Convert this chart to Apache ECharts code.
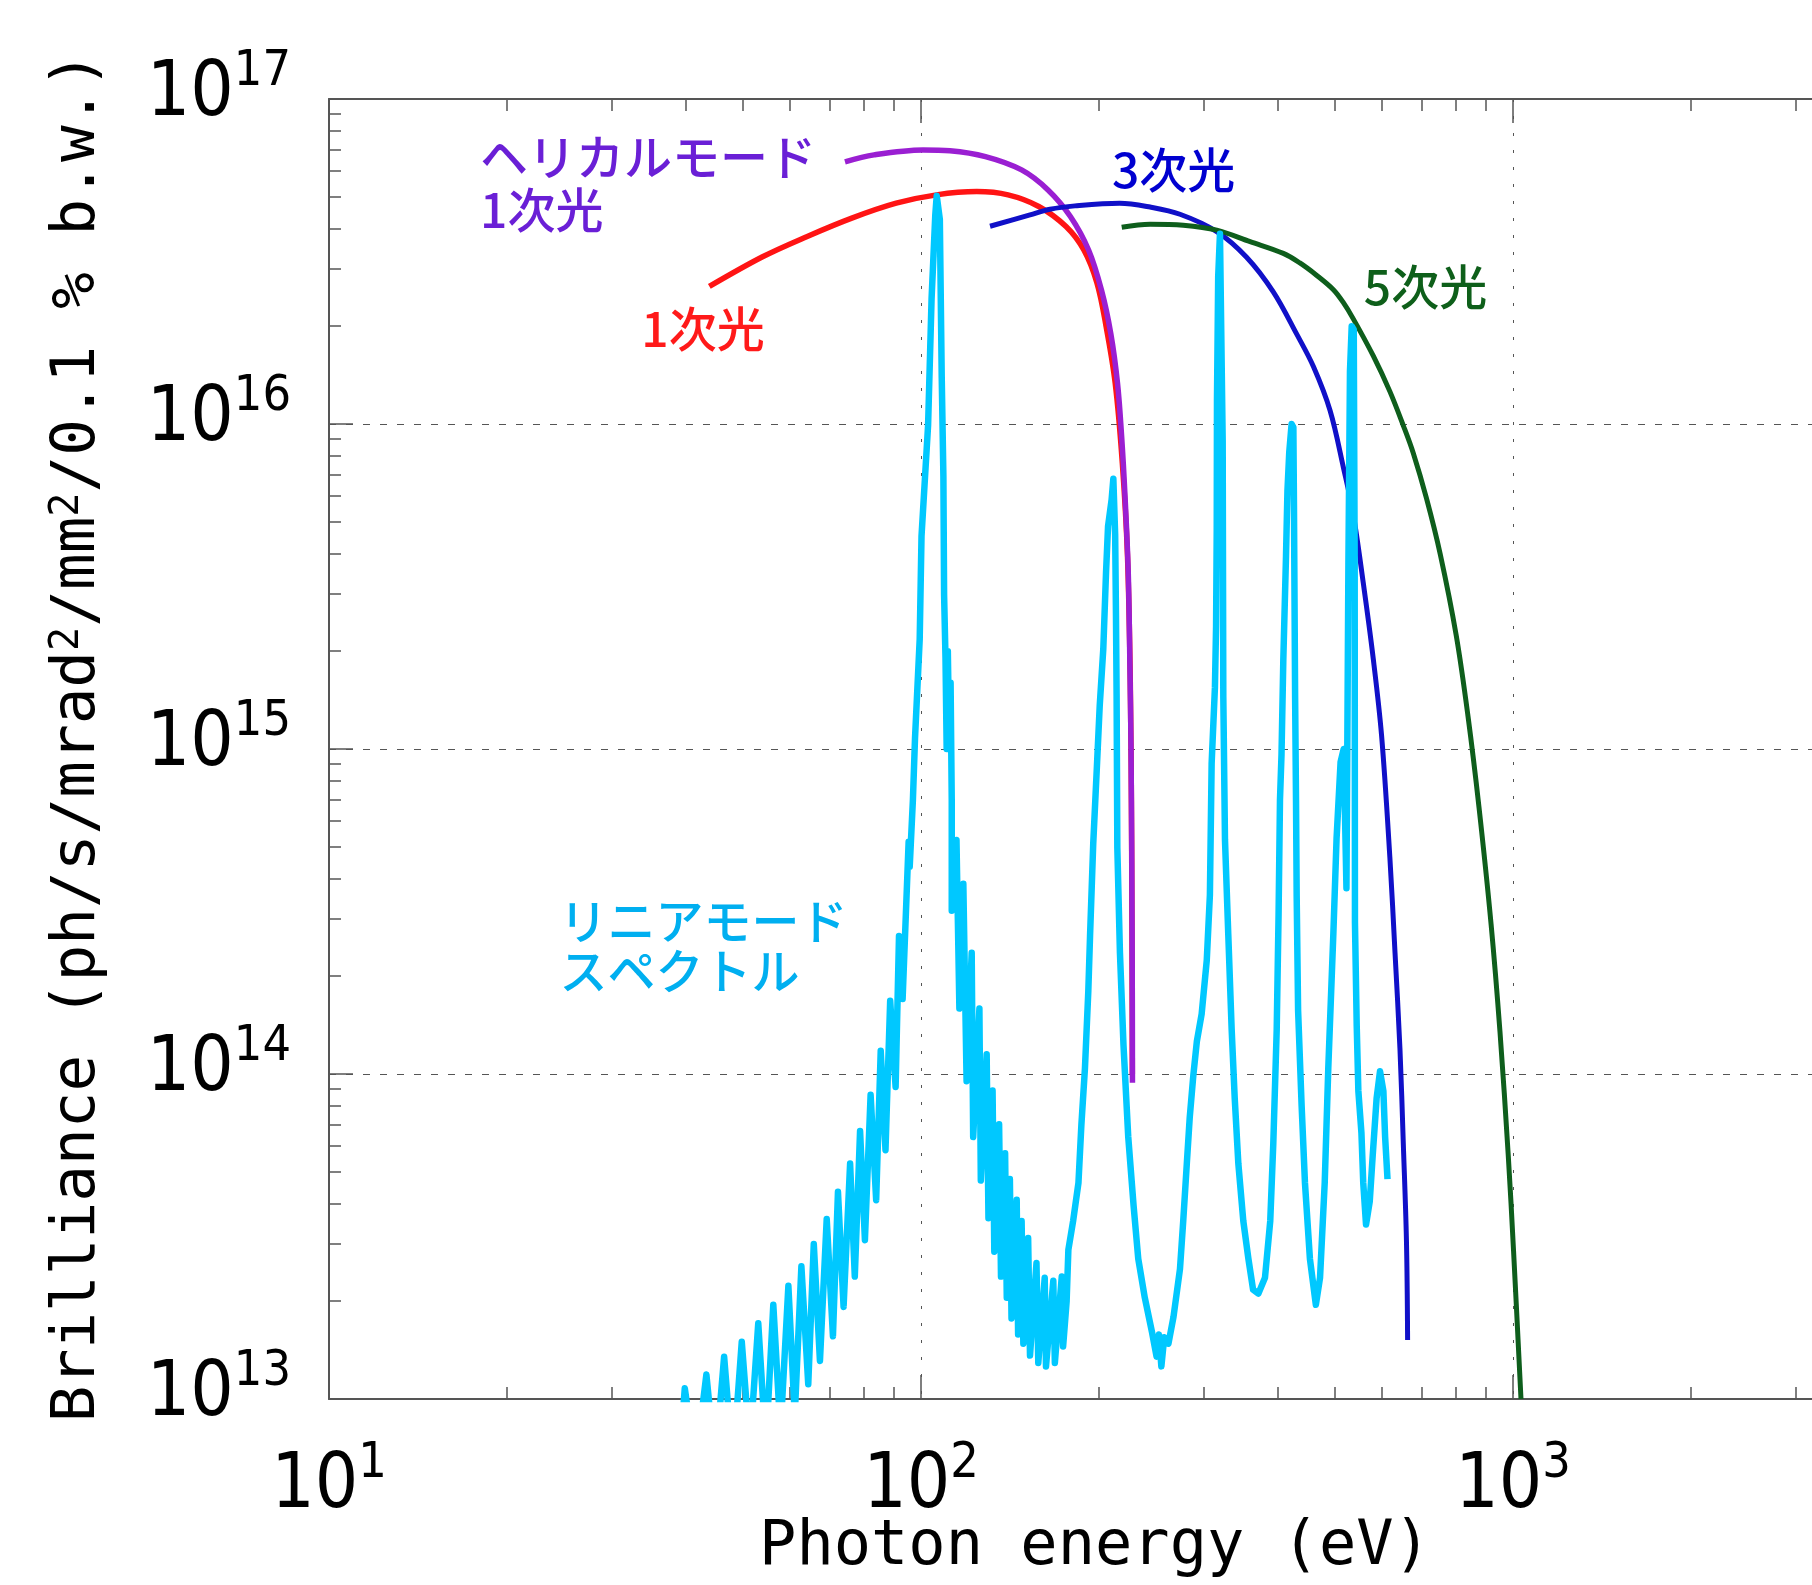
<!DOCTYPE html>
<html>
<head>
<meta charset="utf-8">
<script src="https://cdn.jsdelivr.net/npm/echarts@6.0.0/dist/echarts.min.js"></script>
<style>
html, body { margin: 0; padding: 0; background: #fff; }
#chart { width: 1812px; height: 1585px; }
</style>
</head>
<body>
<div id="chart"></div>
<script>
// linear mode spectrum (cyan)
const linearEnergy = [39.4, 39.9, 41.6, 43.4, 44.9, 46.5, 48.1, 49.8, 51.4, 53.1, 54.7, 56.3, 57.9, 59.7, 61.2, 62.8, 64.5, 65.9, 67.5, 69.3,
  71.0, 72.4, 74.0, 75.9, 77.3, 78.9, 80.4, 82.2, 84.0, 85.5, 87.1, 88.7, 90.6, 91.8, 93.1, 95.3, 95.7, 96.9, 97.7, 99.5,
  100.2, 102.8, 104.2, 105.7, 106.3, 107.6, 108.4, 109.1, 109.4, 110.0, 110.5, 111.0, 111.6, 112.2, 112.7, 112.7, 114.8, 116.1, 117.9, 119.4,
  121.8, 122.5, 125.5, 126.2, 129.1, 130.0, 132.1, 133.0, 135.5, 136.5, 138.7, 139.6, 141.3, 142.2, 145.1, 145.9, 147.9, 148.9, 151.7, 152.8,
  156.7, 157.8, 161.8, 162.6, 167.3, 168.3, 172.9, 173.8, 176.2, 177.4, 180.7, 184.5, 186.6, 189.2, 191.7, 193.0, 195.4, 198.2, 200.4, 203.2,
  205.4, 207.0, 209.9, 211.3, 212.3, 212.8, 213.5, 214.0, 214.6, 216.8, 219.8, 223.9, 228.6, 232.8, 238.8, 245.5, 250.0, 252.3, 254.7, 257.6,
  261.8, 267.0, 273.8, 277.3, 281.2, 284.4, 288.4, 292.4, 297.9, 303.9, 307.6, 309.7, 313.7, 315.1, 315.9, 316.2, 317.7, 319.9, 322.1, 323.3,
  324.1, 326.2, 330.4, 334.8, 338.8, 343.6, 350.3, 357.3, 363.9, 371.5, 381.1, 389.0, 393.6, 398.9, 401.8, 404.0, 406.4, 409.3, 413.6, 415.9,
  418.8, 422.7, 425.6, 426.6, 428.5, 430.0, 431.1, 433.5, 439.5, 445.2, 453.9, 464.5, 472.1, 480.8, 487.5, 497.2, 503.5, 511.4, 517.6, 523.2,
  527.2, 530.4, 534.0, 538.3, 540.2, 540.8, 544.5, 548.0, 554.6, 558.5, 564.6, 572.8, 579.4, 588.3, 596.2, 604.0, 608.1, 613.8]
const linearBrill = [7.9e12, 1.08e13, 6.3e12, 1.19e13, 6.3e12, 1.35e13, 6.3e12, 1.50e13, 7.1e12, 1.71e13, 7.1e12, 1.95e13, 7.9e12, 2.23e13, 8.9e12, 2.56e13, 1.11e13, 3.00e13, 1.31e13, 3.58e13,
  1.56e13, 4.34e13, 1.92e13, 5.30e13, 2.38e13, 6.68e13, 3.08e13, 8.63e13, 4.09e13, 1.18e14, 5.83e13, 1.68e14, 9.12e13, 2.66e14, 1.70e14, 5.18e14, 4.34e14, 6.97e14, 1.08e15, 2.18e15,
  4.52e15, 9.93e15, 2.43e16, 4.38e16, 5.04e16, 4.26e16, 1.39e16, 6.89e15, 2.98e15, 1.9e15, 1.0e15, 2.0e15, 1.05e15, 1.6e15, 6.97e14, 3.18e14, 5.25e14, 1.59e14, 3.85e14, 9.5e13,
  2.36e14, 6.4e13, 1.59e14, 4.7e13, 1.15e14, 3.6e13, 8.9e13, 2.84e13, 7.0e13, 2.38e13, 5.7e13, 2.05e13, 4.75e13, 1.77e13, 4.1e13, 1.58e13, 3.53e13, 1.48e13, 3.13e13, 1.36e13,
  2.62e13, 1.29e13, 2.36e13, 1.26e13, 2.31e13, 1.29e13, 2.38e13, 1.45e13, 2.0e13, 2.88e13, 3.53e13, 4.63e13, 6.97e13, 1.04e14, 1.80e14, 2.66e14, 5.11e14, 8.81e14, 1.36e15, 2.03e15,
  3.51e15, 4.85e15, 5.86e15, 6.79e15, 6.76e15, 4.57e15, 2.53e15, 1.47e15, 4.97e14, 2.36e14, 1.23e14, 6.41e13, 3.94e13, 2.70e13, 2.05e13, 1.61e13, 1.35e13, 1.58e13, 1.26e13, 1.55e13,
  1.48e13, 1.79e13, 2.51e13, 3.53e13, 5.30e13, 7.35e13, 9.89e13, 1.26e14, 1.53e14, 2.24e14, 3.55e14, 9.02e14, 1.55e15, 2.39e15, 4.72e15, 1.19e16, 2.84e16, 3.85e16, 3.85e16, 8.87e15,
  1.44e15, 5.25e14, 2.69e14, 1.37e14, 8.41e13, 5.30e13, 3.53e13, 2.70e13, 2.17e13, 2.11e13, 2.36e13, 3.53e13, 6.08e13, 1.37e14, 3.09e14, 6.97e14, 9.59e14, 1.89e15, 3.93e15, 6.22e15,
  8.17e15, 1.0e16, 9.77e15, 5.60e15, 1.44e15, 6.97e14, 3.54e14, 1.57e14, 7.98e13, 4.63e13, 2.70e13, 1.95e13, 2.36e13, 4.63e13, 1.04e14, 2.70e14, 5.32e14, 9.12e14, 1.0e15, 3.73e14,
  3.72e15, 1.45e16, 2.0e16, 1.95e16, 3.72e15, 2.92e14, 1.41e14, 8.87e13, 6.58e13, 4.63e13, 3.44e13, 4.05e13, 5.60e13, 8.41e13, 1.02e14, 8.87e13, 6.41e13, 4.75e13]

// 1st harmonic, linear (red)
const firstEnergy = [43.9, 54.0, 64.1, 76.4, 90.8, 106.2, 124.2, 140.3, 158.1, 175.8, 188.4, 198.2, 205.4, 212.8, 218.8, 223.2, 225.7, 226.9, 227.5]
const firstBrill = [2.65e16, 3.27e16, 3.77e16, 4.30e16, 4.78e16, 5.07e16, 5.19e16, 5.07e16, 4.67e16, 4.05e16, 3.43e16, 2.72e16, 2.0e16, 1.34e16, 7.6e15, 3.98e15, 1.6e15, 5.0e14, 1.0e14]

// helical mode 1st harmonic (purple)
const helicalEnergy = [74.4, 83.3, 100.8, 111.9, 128.5, 147.9, 163.9, 178.8, 191.9, 201.8, 209.2, 214.8, 218.3, 221.1, 223.9, 225.4, 226.3, 227.0, 227.5, 227.6]
const helicalBrill = [6.41e16, 6.73e16, 6.97e16, 6.93e16, 6.65e16, 6.05e16, 5.25e16, 4.35e16, 3.43e16, 2.58e16, 1.90e16, 1.33e16, 9.06e15, 6.01e15, 3.51e15, 1.77e15, 1.04e15, 4.59e14, 1.69e14, 9.4e13]

// 3rd harmonic (blue)
const thirdEnergy = [130.8, 152.8, 165.2, 182.0, 216.5, 243.8, 273.8, 315.9, 354.8, 393.6, 431.2, 460.3, 490.9, 517.2, 537.0, 558.5, 580.8, 599.8, 619.4, 632.0, 644.2, 652.7, 660.7, 663.7]
const thirdBrill = [4.06e16, 4.40e16, 4.58e16, 4.69e16, 4.78e16, 4.65e16, 4.42e16, 3.91e16, 3.26e16, 2.55e16, 1.89e16, 1.50e16, 1.10e16, 7.33e15, 5.30e15, 3.25e15, 1.89e15, 1.10e15, 4.65e14, 2.36e14, 1.20e14, 6.10e13, 3.08e13, 1.52e13]

// 5th harmonic (green)
const fifthEnergy = [218.3, 243.8, 277.3, 315.9, 359.7, 409.3, 436.5, 465.6, 497.3, 516.4, 537.0, 580.8, 619.4, 652.7, 678.6, 714.5, 753.4, 801.7, 839.5, 876.2, 918.3, 950.6, 981.7, 1002, 1031.6]
const fifthBrill = [4.03e16, 4.12e16, 4.09e16, 3.95e16, 3.64e16, 3.35e16, 3.13e16, 2.87e16, 2.59e16, 2.37e16, 2.11e16, 1.62e16, 1.26e16, 9.89e15, 8.13e15, 5.89e15, 3.98e15, 2.24e15, 1.26e15, 6.61e14, 2.89e14, 1.35e14, 5.62e13, 2.87e13, 1.0e13]

// minor tick mantissas for the log axes
const mantissas = [2, 3, 4, 5, 6, 7, 8, 9]
const xDecades = [10, 100, 1000]
const yDecades = [1e13, 1e14, 1e15, 1e16]

const pairs = (xs, ys) => xs.map((x, i) => [x, ys[i]])
const minorOf = decades => decades.flatMap(d => mantissas.map(m => m * d))

const axisGray = '#555'
const tickFont = "'Liberation Sans Narrow', 'DejaVu Sans Condensed', 'Liberation Sans', sans-serif"
const monoFont = "'DejaVu Sans Mono', 'Liberation Mono', monospace"
const cjkFont = "'Noto Sans CJK JP', 'Noto Sans CJK SC', sans-serif"

const powerLabel = {
  formatter: v => '{b|10}{s|' + Math.round(Math.log10(v)) + '}',
  rich: {
    b: { fontSize: 76, lineHeight: 96, fontFamily: tickFont, color: '#000' },
    s: { fontSize: 50, lineHeight: 50, verticalAlign: 'top', fontFamily: tickFont, color: '#000' }
  }
}

function minorAxis (position, values, isY) {
  return {
    type: 'log',
    min: isY ? 1e13 : 10,
    max: isY ? 1e17 : 10000,
    position: position,
    axisLine: { show: false, onZero: false },
    axisTick: { show: true, inside: true, length: 12, customValues: values, lineStyle: { color: axisGray, width: 1.5 } },
    axisLabel: { show: false },
    splitLine: { show: false }
  }
}

function annotation (text, coord, color, lineHeight) {
  return {
    symbol: 'circle',
    symbolSize: 0,
    silent: true,
    data: [{
      coord: coord,
      label: {
        show: true,
        position: 'right',
        distance: 0,
        formatter: text,
        color: color,
        fontSize: 48,
        fontWeight: 500,
        lineHeight: lineHeight,
        fontFamily: cjkFont,
        align: 'left'
      }
    }]
  }
}

function curve (name, data, color, width, mark, smooth) {
  return {
    name: name,
    type: 'line',
    data: data,
    showSymbol: false,
    symbol: 'none',
    clip: true,
    smooth: smooth ? 0.35 : false,
    lineStyle: { color: color, width: width, join: 'round' },
    itemStyle: { color: color },
    markPoint: mark
  }
}

const chart = echarts.init(document.getElementById('chart'))
chart.setOption({
  animation: false,
  backgroundColor: '#fff',
  grid: {
    left: 329,
    top: 99,
    bottom: 186,
    right: -293,
    outerBoundsMode: 'none',
    containLabel: false
  },
  xAxis: [
    {
      type: 'log',
      min: 10,
      max: 10000,
      position: 'bottom',
      name: 'Photon energy (eV)',
      nameLocation: 'middle',
      nameGap: 118,
      nameMoveOverlap: false,
      nameTextStyle: { fontFamily: monoFont, fontSize: 62, color: '#000', padding: [0, 244, 0, 0] },
      axisLine: { show: true, onZero: false, lineStyle: { color: axisGray, width: 2 } },
      axisTick: { show: true, inside: true, length: 24, lineStyle: { color: axisGray, width: 1.5 } },
      axisLabel: Object.assign({ margin: 40 }, powerLabel),
      splitLine: { show: true, lineStyle: { color: axisGray, width: 1, type: [3, 14] } }
    },
    minorAxis('bottom', minorOf(xDecades), false),
    {
      type: 'log',
      min: 10,
      max: 10000,
      position: 'top',
      axisLine: { show: true, onZero: false, lineStyle: { color: axisGray, width: 2 } },
      axisTick: { show: true, inside: true, length: 24, lineStyle: { color: axisGray, width: 1.5 } },
      axisLabel: { show: false },
      splitLine: { show: false }
    },
    minorAxis('top', minorOf(xDecades), false)
  ],
  yAxis: [
    {
      type: 'log',
      min: 1e13,
      max: 1e17,
      position: 'left',
      name: 'Brilliance (ph/s/mrad{sup|2}/mm{sup|2}/0.1 % b.w.)',
      nameLocation: 'middle',
      nameGap: 220,
      nameMoveOverlap: false,
      nameTextStyle: {
        fontFamily: monoFont,
        fontSize: 61,
        lineHeight: 61,
        color: '#000',
        padding: [0, 0, 0, 24],
        rich: {
          sup: { fontFamily: monoFont, fontSize: 40, lineHeight: 30, verticalAlign: 'top', color: '#000' }
        }
      },
      axisLine: { show: true, onZero: false, lineStyle: { color: axisGray, width: 2 } },
      axisTick: { show: true, inside: true, length: 24, lineStyle: { color: axisGray, width: 1.5 } },
      axisLabel: Object.assign({ margin: 38, padding: [0, 0, 8, 0] }, powerLabel),
      splitLine: { show: true, lineStyle: { color: axisGray, width: 1, type: [7, 10] } }
    },
    minorAxis('left', minorOf(yDecades), true)
  ],
  series: [
    curve('1次光', pairs(firstEnergy, firstBrill), '#ff1414', 5.5,
      annotation('1次光', [33.7, 1.96e16], '#ff1a1a', 50), true),
    curve('ヘリカルモード 1次光', pairs(helicalEnergy, helicalBrill), '#9a1fd2', 5.5,
      annotation('ヘリカルモード\n1次光', [18.0, 5.52e16], '#6a1fd6', 53), true),
    curve('3次光', pairs(thirdEnergy, thirdBrill), '#1010c8', 5,
      annotation('3次光', [210.2, 6.05e16], '#0000d0', 50), true),
    curve('5次光', pairs(fifthEnergy, fifthBrill), '#0e5e1c', 5,
      annotation('5次光', [559.8, 2.64e16], '#0e5f1a', 50), true),
    curve('リニアモード スペクトル', pairs(linearEnergy, linearBrill), '#00c8ff', 6.5,
      annotation('リニアモード\nスペクトル', [24.5, 2.48e14], '#00aff0', 50), false)
  ]
})
</script>
</body>
</html>
